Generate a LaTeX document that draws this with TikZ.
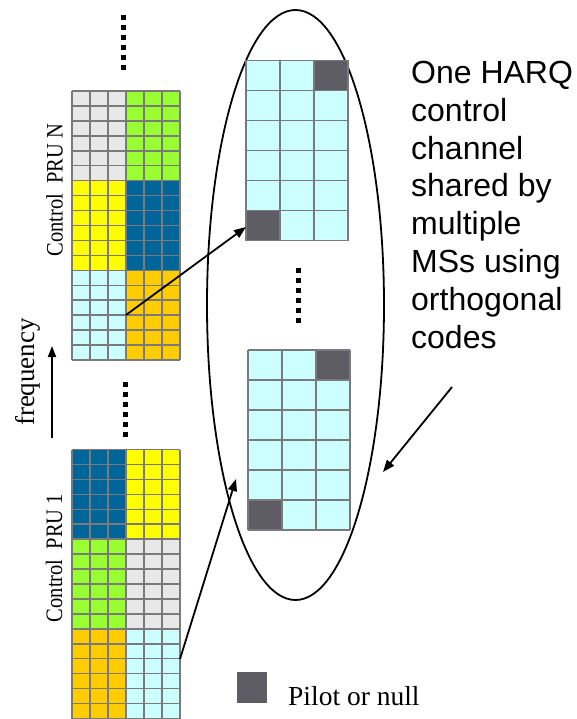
\documentclass[tikz,border=0pt]{standalone}
\usepackage{fontspec}
\setmainfont{Liberation Serif}
\newfontfamily\harqfont{Liberation Sans}
\usetikzlibrary{arrows.meta,shapes.geometric}
\definecolor{cgray}{HTML}{E8E8E8}
\definecolor{cgreen}{HTML}{99FF33}
\definecolor{cyell}{HTML}{FFFF00}
\definecolor{cblue}{HTML}{006699}
\definecolor{ccyan}{HTML}{CCFFFF}
\definecolor{corange}{HTML}{FFCC00}
\definecolor{gline}{HTML}{7A7A7A}
\definecolor{pilotc}{HTML}{5E5C64}
\tikzset{
  gridline/.style={draw=gline, line width=1.5pt},
  conn/.style={line width=1.8pt, -{Triangle[length=12pt,width=9pt]}},
  dotline/.style={line width=5pt, dash pattern=on 5pt off 5pt},
  pilotcell/.style={fill=pilotc, draw=none, inner sep=0pt, minimum width=34pt, minimum height=30pt},
  sidelabel/.style={anchor=base, inner sep=0pt, font=\fontsize{20.5}{24}\selectfont, xscale=1.15, rotate=90},
}
% big control PRU grid: #1 x0, #2 y0, then 6 block colours (TL,TR,ML,MR,BL,BR)
\newcommand\prugrid[8]{%
  \begin{scope}[shift={(#1,#2)}]
    \fill[#3] (0,0) rectangle (54,89.667);
    \fill[#4] (54,0) rectangle (108,89.667);
    \fill[#5] (0,89.667) rectangle (54,179.333);
    \fill[#6] (54,89.667) rectangle (108,179.333);
    \fill[#7] (0,179.333) rectangle (54,269);
    \fill[#8] (54,179.333) rectangle (108,269);
    \foreach \i in {0,...,6} \draw[gridline] (\i*18,0) -- (\i*18,269);
    \foreach \j in {0,...,18} \draw[gridline] (0,\j*269/18) -- (108,\j*269/18);
  \end{scope}}
% small HARQ grid: #1 x0, #2 y0, #3 name prefix
\newcommand\harqgrid[3]{%
  \begin{scope}[shift={(#1,#2)}]
    \fill[ccyan] (0,0) rectangle (102,180);
    \node[pilotcell] (#3tr) at (85,15) {};
    \node[pilotcell] (#3bl) at (17,165) {};
    \foreach \i in {0,...,3} \draw[gridline] (\i*34,0) -- (\i*34,180);
    \foreach \j in {0,...,6} \draw[gridline] (0,\j*30) -- (102,\j*30);
  \end{scope}}
\begin{document}
\begin{tikzpicture}[x=1pt,y=-1pt]
\useasboundingbox (0,0) rectangle (577,719);
% control PRU grids
\prugrid{72}{91}{cgray}{cgreen}{cyell}{cblue}{ccyan}{corange}
\prugrid{72}{449.5}{cblue}{cyell}{cgreen}{cgray}{corange}{ccyan}
% dots
\draw[dotline] (123,15) -- (123,70);
\draw[dotline] (125,382) -- (125,437);
\draw[dotline] (298,268) -- (298,325);
% side labels
\node[sidelabel] (ctlN) at (62.5,190) {Control\ \ PRU N};
\node[sidelabel] (ctl1) at (62,558) {Control\ \ PRU 1};
\node[anchor=base, inner sep=0pt, font=\fontsize{27}{30}\selectfont, rotate=90] (freq) at (34,372) {frequency};
\coordinate (fbot) at (52,438);
\coordinate (ftop) at (52,346);
\draw[line width=1.8pt, -{Triangle[length=11pt,width=8pt]}] (fbot) -- (ftop);
% oval
\node[ellipse, draw, line width=1.8pt, inner sep=0pt, minimum width=177pt, minimum height=590pt] (oval) at (295.5,305) {};
% HARQ grids
\harqgrid{246}{60.5}{up}
\harqgrid{248}{350}{lo}
% text
\node[anchor=north west, inner sep=0pt, align=left, font=\harqfont\fontsize{32}{37.8}\selectfont] (harq) at (411,61)
  {One HARQ\\control\\channel\\shared by\\multiple\\MSs using\\orthogonal\\codes};
% connectors
\coordinate (srcN) at (126,315);
\coordinate (src1) at (180,659);
\coordinate (tipup) at (246,227);
\coordinate (tiplo) at (236,479);
\coordinate (hsrc) at (452,387);
\coordinate (htip) at (383,472);
\draw[conn] (srcN) -- (tipup);
\draw[conn] (src1) -- (tiplo);
\draw[conn] (hsrc) -- (htip);
% legend
\node[fill=pilotc, inner sep=0pt, minimum width=30pt, minimum height=31pt] (legend) at (252,687.5) {};
\node[anchor=base west, inner sep=0pt, font=\fontsize{27.5}{30}\selectfont] (legtext) at (288,705) {Pilot or null};
\end{tikzpicture}
\end{document}
